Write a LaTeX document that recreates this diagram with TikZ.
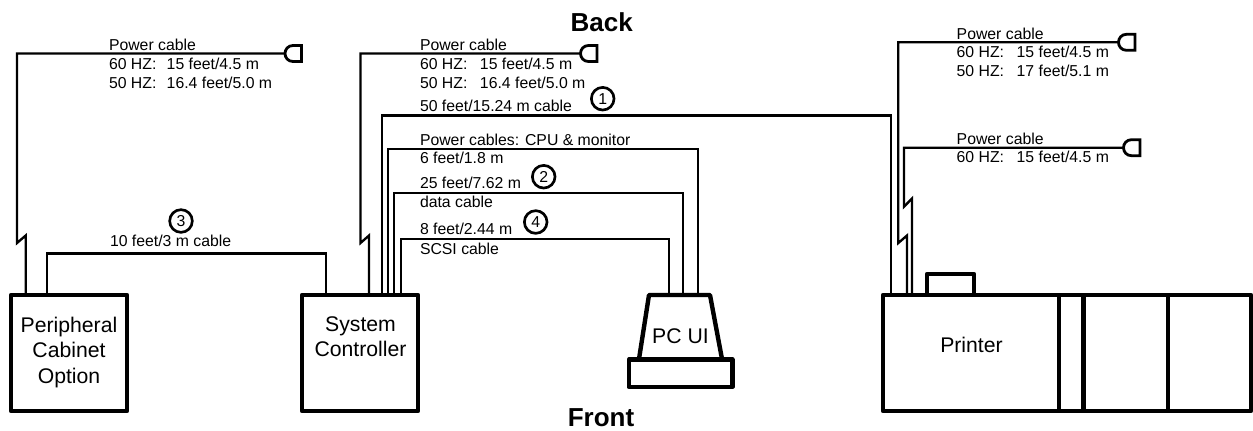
\documentclass[tikz,border=0pt]{standalone}
\usepackage{fontspec}
\setmainfont{Liberation Sans}
\newcommand{\hzline}[2]{\makebox[43.3pt][l]{#1}#2}
\newcommand{\hzwide}[2]{\makebox[45pt][l]{#1}#2}
\tikzset{
  unitbox/.style={draw=black,line width=3.3pt,inner sep=0pt,outer sep=0pt,line join=round,minimum width=#1*0.75pt},
  cable/.style={draw=black,line width=1.75pt,line join=miter},
  small/.style={inner sep=0pt,outer sep=0pt,anchor=base west,font=\fontsize{11.85}{14}\selectfont},
  boxlabel/.style={inner sep=0pt,outer sep=0pt,anchor=base,font=\fontsize{15.9}{18}\selectfont},
  heading/.style={inner sep=0pt,outer sep=0pt,anchor=base,font=\fontsize{19.5}{22}\selectfont\bfseries},
  callout/.style={circle,draw=black,line width=2pt,inner sep=0pt,outer sep=0pt,minimum size=17pt,font=\fontsize{11.85}{14}\selectfont},
  plug/.pic={\draw[line width=2.1pt,line join=miter] (16.5,-8) -- (8,-8) .. controls (3,-8) and (0,-4) .. (0,0) .. controls (0,4) and (3,8) .. (8,8) -- (16.5,8) -- cycle;}
}
\begin{document}
\begin{tikzpicture}[x=0.75pt,y=-0.75pt]
\useasboundingbox (0,0) rectangle (1253,430);
% boxes
\node[unitbox=116,minimum height=87pt] (periph) at (69,353) {};
\node[unitbox=116,minimum height=87pt] (sysc) at (360,353) {};
\node[unitbox=368,minimum height=87pt] (printer) at (1067,353) {};
\node[unitbox=47,minimum height=15.75pt] (tray) at (950.5,284.5) {};
\node[unitbox=103.6,minimum height=20.6pt] (pcbase) at (680.5,373.2) {};
\coordinate (pcnw) at (649,295);
\coordinate (pcne) at (710,295);
\coordinate (pcse) at (722,359);
\coordinate (pcsw) at (639,359);
\draw[line width=3.3pt,line join=round] (pcsw) -- (pcnw) -- (pcne) -- (pcse);
\draw[line width=3.3pt] (1058.7,0 |- printer.north) -- (1058.7,0 |- printer.south);
\draw[line width=3.3pt] (1083.3,0 |- printer.north) -- (1083.3,0 |- printer.south);
\draw[line width=3.3pt] (1167.7,0 |- printer.north) -- (1167.7,0 |- printer.south);
% plugs
\coordinate (plugA) at (285,53.5);
\coordinate (plugB) at (580.5,53.5);
\coordinate (plugC) at (1118.5,42.3);
\coordinate (plugD) at (1123.5,147.7);
\pic at (plugA) {plug};
\pic at (plugB) {plug};
\pic at (plugC) {plug};
\pic at (plugD) {plug};
% cables
\draw[cable] (plugA) -- (17,53.5) -- (17,243) -- (25.7,235.5) -- (25.7,0 |- periph.north);
\draw[cable] (plugB) -- (360.5,53.5) -- (360.5,243) -- (369,235.5) -- (369,0 |- sysc.north);
\draw[cable] (plugC) -- (898.3,42.3) -- (898.3,243) -- (907,235.5) -- (907,0 |- printer.north);
\draw[cable] (plugD) -- (904,147.7) -- (904,206.7) -- (912,198.5) -- (912,0 |- printer.north);
\draw[cable] (47,0 |- periph.north) -- (47,253.5) -- (326,253.5) -- (326,0 |- sysc.north);
\draw[cable] (382,0 |- sysc.north) -- (382,115.5) -- (891,115.5) -- (891,0 |- printer.north);
\draw[cable] (387.7,0 |- sysc.north) -- (387.7,149) -- (698,149) -- (698,295);
\draw[cable] (394,0 |- sysc.north) -- (394,193) -- (683,193) -- (683,295);
\draw[cable] (400.7,0 |- sysc.north) -- (400.7,239) -- (669,239) -- (669,295);
% headings
\node[heading] (back) at (601.7,31) {Back};
\node[heading] (front) at (601,426) {Front};
% box labels
\node[boxlabel] (lp1) at (69,332) {Peripheral};
\node[boxlabel] (lp2) at (69,357.7) {Cabinet};
\node[boxlabel] (lp3) at (69,383) {Option};
\node[boxlabel] (ls1) at (360.5,331) {System};
\node[boxlabel] (ls2) at (360.5,356) {Controller};
\node[boxlabel] (lpc) at (680.5,343) {PC UI};
\node[boxlabel] (lpr) at (971.5,352.7) {Printer};
% left labels
\node[small] (a1) at (109,50.7) {Power cable};
\node[small] (a2) at (109,69.7) {\hzline{60 HZ:}{15 feet/4.5 m}};
\node[small] (a3) at (109,88.3) {\hzline{50 HZ:}{16.4 feet/5.0 m}};
\node[small] (a4) at (110,246.7) {10 feet/3 m cable};
% centre labels
\node[small] (b1) at (420,50.7) {Power cable};
\node[small] (b2) at (420,69.7) {\hzwide{60 HZ:}{15 feet/4.5 m}};
\node[small] (b3) at (420,88.3) {\hzwide{50 HZ:}{16.4 feet/5.0 m}};
\node[small] (b4) at (420,111.7) {50 feet/15.24 m cable};
\node[small] (b5) at (420,145.3) {Power cables: CPU \& monitor};
\node[small] (b6) at (420,163.7) {6 feet/1.8 m};
\node[small] (b7) at (420,188.7) {25 feet/7.62 m};
\node[small] (b8) at (420,207.3) {data cable};
\node[small] (b9) at (420,234.3) {8 feet/2.44 m};
\node[small] (b10) at (420,254) {SCSI cable};
% right labels
\node[small] (c1) at (956.7,39) {Power cable};
\node[small] (c2) at (956.7,57.3) {\hzwide{60 HZ:}{15 feet/4.5 m}};
\node[small] (c3) at (956.7,76) {\hzwide{50 HZ:}{17 feet/5.1 m}};
\node[small] (c4) at (956.7,144.3) {Power cable};
\node[small] (c5) at (956.7,162.7) {\hzwide{60 HZ:}{15 feet/4.5 m}};
% callouts
\node[callout] (n1) at (602.7,98.7) {1};
\node[callout] (n2) at (543.7,176.7) {2};
\node[callout] (n3) at (181,221) {3};
\node[callout] (n4) at (535.7,222) {4};
\end{tikzpicture}
\end{document}
